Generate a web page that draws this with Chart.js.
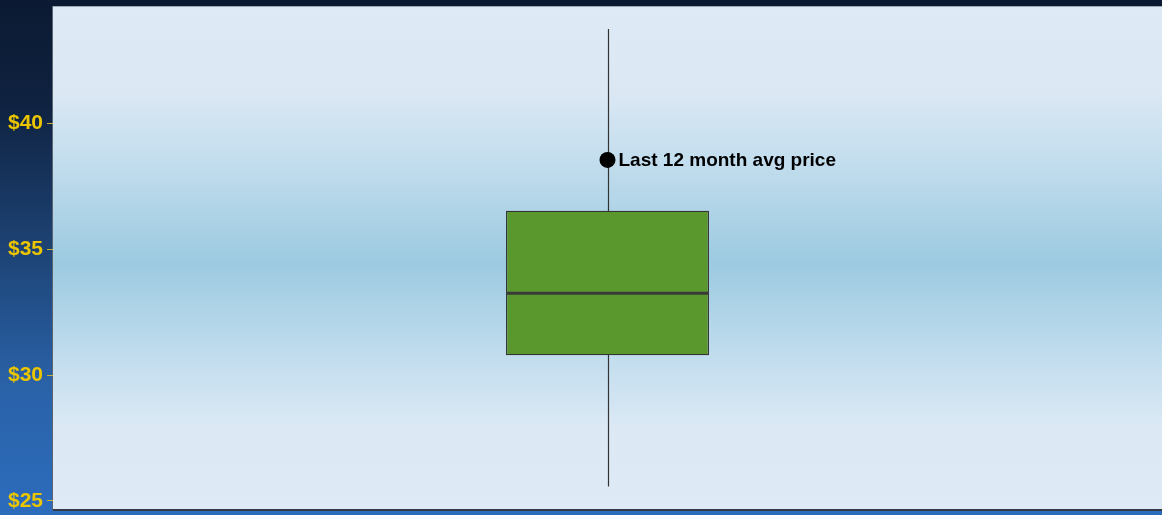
<!DOCTYPE html>
<html><head><meta charset="utf-8">
<script src="https://cdn.jsdelivr.net/npm/chart.js@4/dist/chart.umd.min.js"></script>
<style>html,body{margin:0;padding:0;background:#1a3a6a;}#wrap{width:1162px;height:515px;position:relative;}</style>
</head><body><div id="wrap"><canvas id="c"></canvas></div>
<script>
const categories = ["Price"];
const whiskerLow = [25.57];
const quartile1 = [30.79];
const medians = [33.26];
const quartile3 = [36.54];
const whiskerHigh = [43.77];
const avgPrice = [38.56];
const avgLabel = "Last 12 month avg price";
const tickValues = [25, 30, 35, 40];

const bgPlugin = {
  id: 'bg',
  beforeDraw(chart) {
    const {ctx, width, height, chartArea: a} = chart;
    ctx.save();
    let g = ctx.createLinearGradient(0, 0, 0, height);
    g.addColorStop(0, '#0b1a32');
    g.addColorStop(0.2, '#0f2240');
    g.addColorStop(0.5, '#1e4578');
    g.addColorStop(0.75, '#2a62a8');
    g.addColorStop(1, '#2c6cbd');
    ctx.fillStyle = g;
    ctx.fillRect(0, 0, width, height);
    let p = ctx.createLinearGradient(0, a.top, 0, a.bottom);
    p.addColorStop(0, '#deeaf6');
    p.addColorStop(0.17, '#dbe8f4');
    p.addColorStop(0.3, '#c4deee');
    p.addColorStop(0.51, '#9ccae0');
    p.addColorStop(0.7, '#c2ddee');
    p.addColorStop(0.84, '#dce9f5');
    p.addColorStop(1, '#deeaf6');
    ctx.fillStyle = p;
    ctx.fillRect(a.left, a.top, a.right - a.left, a.bottom - a.top);
    ctx.fillStyle = '#9aa6b4';
    ctx.fillRect(a.left, a.top, a.right - a.left, 1);
    ctx.fillStyle = '#333a44';
    ctx.fillRect(a.left, a.bottom - 1, a.right - a.left, 2);
    ctx.fillStyle = '#5a6470';
    ctx.fillRect(a.left - 1, a.top, 1, a.bottom - a.top);
    ctx.restore();
  }
};

const boxPlugin = {
  id: 'boxextras',
  beforeDatasetsDraw(chart) {
    const {ctx, scales: {y}} = chart;
    const meta = chart.getDatasetMeta(0);
    ctx.save();
    meta.data.forEach((bar, i) => {
      const x = Math.round(bar.x) + 0.5;
      ctx.strokeStyle = '#333333';
      ctx.lineWidth = 1.2;
      ctx.beginPath();
      ctx.moveTo(x, y.getPixelForValue(whiskerHigh[i]));
      ctx.lineTo(x, y.getPixelForValue(whiskerLow[i]));
      ctx.stroke();
    });
    ctx.restore();
  },
  afterDatasetsDraw(chart) {
    const {ctx, scales: {y}} = chart;
    const meta = chart.getDatasetMeta(0);
    ctx.save();
    meta.data.forEach((bar, i) => {
      const ym = y.getPixelForValue(medians[i]);
      ctx.strokeStyle = '#3a3a3a';
      ctx.lineWidth = 3;
      ctx.beginPath();
      ctx.moveTo(bar.x - bar.width / 2, ym);
      ctx.lineTo(bar.x + bar.width / 2, ym);
      ctx.stroke();
    });
    const pm = chart.getDatasetMeta(1);
    pm.data.forEach((pt) => {
      ctx.fillStyle = '#000000';
      ctx.font = 'bold 19px "Liberation Sans", Arial, sans-serif';
      ctx.textBaseline = 'middle';
      ctx.textAlign = 'left';
      ctx.fillText(avgLabel, pt.x + 11, pt.y + 1);
    });
    ctx.restore();
  }
};

new Chart(document.getElementById('c'), {
  data: {
    labels: categories,
    datasets: [
      {
        type: 'bar',
        data: quartile1.map((q, i) => [q, quartile3[i]]),
        backgroundColor: '#5a982e',
        borderColor: '#333333',
        borderWidth: 1.3,
        borderSkipped: false,
        categoryPercentage: 1,
        barPercentage: 0.183,
        order: 2
      },
      {
        type: 'line',
        data: avgPrice,
        showLine: false,
        pointRadius: 8,
        pointHoverRadius: 8,
        pointBackgroundColor: '#000000',
        pointBorderColor: '#000000',
        pointBorderWidth: 0,
        order: 1
      }
    ]
  },
  options: {
    responsive: true,
    maintainAspectRatio: false,
    animation: false,
    events: [],
    layout: {autoPadding: false, padding: {top: 6, bottom: 5, left: 0, right: 0}},
    plugins: {legend: {display: false}, tooltip: {enabled: false}},
    scales: {
      x: {display: false},
      y: {
        min: 24.64,
        max: 44.68,
        afterBuildTicks(scale) { scale.ticks = tickValues.map(v => ({value: v})); },
        afterFit(scale) { scale.width = 53; scale.paddingTop = 0; scale.paddingBottom = 0; },
        border: {display: false},
        grid: {drawOnChartArea: false, drawTicks: true, tickLength: 6, color: '#c8b030', tickWidth: 1},
        ticks: {
          padding: 4,
          color: '#eac500',
          font: {family: '"Liberation Sans", Arial, sans-serif', size: 21, weight: 'bold'},
          callback: (v) => '$' + v
        }
      }
    }
  },
  plugins: [bgPlugin, boxPlugin]
});
</script>
</body></html>
